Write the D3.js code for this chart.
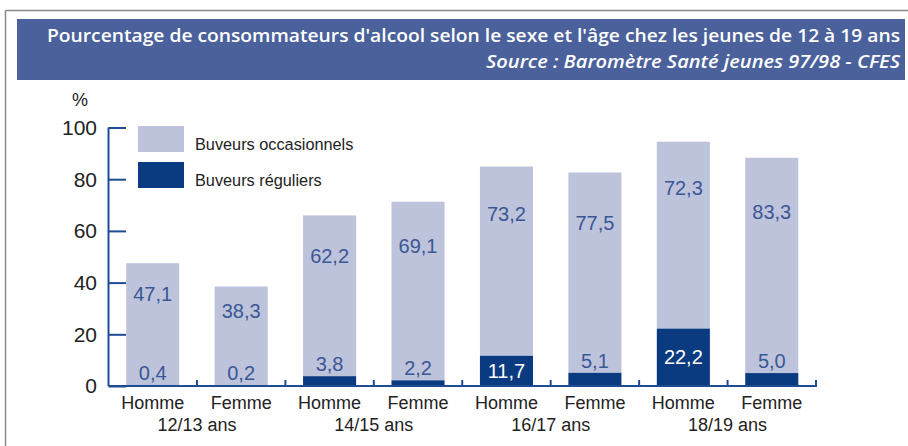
<!DOCTYPE html>
<html>
<head>
<meta charset="utf-8">
<script src="https://cdn.jsdelivr.net/npm/d3@7"></script>
<style>
  body { margin: 0; background: #fff; }
  svg { display: block; }
</style>
</head>
<body>
<svg id="chart" width="908" height="446"></svg>
<script>
// --------------- Data ---------------
const SEXES = ["Homme", "Femme", "Homme", "Femme", "Homme", "Femme", "Homme", "Femme"];
const AGES = ["12/13 ans", "14/15 ans", "16/17 ans", "18/19 ans"];
const REGULIERS = [0.4, 0.2, 3.8, 2.2, 11.7, 5.1, 22.2, 5.0];
const OCCASIONNELS = [47.1, 38.3, 62.2, 69.1, 73.2, 77.5, 72.3, 83.3];
const Y_TICKS = [0, 20, 40, 60, 80, 100];
const SERIES = ["Buveurs occasionnels", "Buveurs réguliers"];

// --------------- Constants ---------------
const MARGINS = { top: 127.5, right: 92, bottom: 60, left: 108.5 };
const WIDTH = 908;
const HEIGHT = 446;
const LIGHT = "#bec3dc";
const DARK = "#0a3a80";
const AXIS = "#1f4b92";
const LABEL = "#3a5795";
const FONT = "'Liberation Sans', Arial, sans-serif";

const svg = d3.select("#chart");

// --------------- Frame & title ---------------
svg.append("line").attr("x1", 5.5).attr("x2", WIDTH).attr("y1", 10.5).attr("y2", 10.5)
  .attr("stroke", "#8a8a8a").attr("stroke-width", 1.5);
svg.append("line").attr("x1", 5.5).attr("x2", 5.5).attr("y1", 10.5).attr("y2", HEIGHT)
  .attr("stroke", "#8a8a8a").attr("stroke-width", 1.5);
svg.append("rect").attr("x", 17).attr("y", 19).attr("width", 888).attr("height", 61)
  .attr("fill", "#4a619b");
svg.append("text")
  .text("Pourcentage de consommateurs d'alcool selon le sexe et l'âge chez les jeunes de 12 à 19 ans")
  .attr("x", 900).attr("y", 41.5).attr("text-anchor", "end")
  .attr("textLength", 853).attr("lengthAdjust", "spacingAndGlyphs")
  .attr("font-family", "'Open Sans', sans-serif").attr("font-weight", 600)
  .attr("font-size", 18.5).attr("fill", "#fff");
svg.append("text")
  .text("Source : Baromètre Santé jeunes 97/98 - CFES")
  .attr("x", 900).attr("y", 68).attr("text-anchor", "end")
  .attr("textLength", 414).attr("lengthAdjust", "spacingAndGlyphs")
  .attr("font-family", "'Open Sans', sans-serif").attr("font-style", "italic").attr("font-weight", 600)
  .attr("font-size", 18.5).attr("fill", "#fff");

// --------------- Scales ---------------
const x = d3.scaleBand()
  .domain(d3.range(SEXES.length))
  .range([MARGINS.left, WIDTH - MARGINS.right])
  .paddingInner(0.4)
  .paddingOuter(0.2);
const y = d3.scaleLinear().domain([0, 100]).range([HEIGHT - MARGINS.bottom, MARGINS.top]);
const step = x.step();
const x0 = MARGINS.left;
const y0 = y(0);

// --------------- Bars ---------------
const rows = SEXES.map((s, i) => ({ i, reg: REGULIERS[i], occ: OCCASIONNELS[i] }));

svg.append("g").selectAll("rect").data(rows).join("rect")
  .attr("x", d => x(d.i)).attr("width", x.bandwidth())
  .attr("y", d => y(d.reg + d.occ))
  .attr("height", d => y(d.reg) - y(d.reg + d.occ))
  .attr("fill", LIGHT);

svg.append("g").selectAll("rect").data(rows).join("rect")
  .attr("x", d => x(d.i)).attr("width", x.bandwidth())
  .attr("y", d => y(d.reg))
  .attr("height", d => y0 - y(d.reg))
  .attr("fill", DARK);

// value labels
svg.append("g").selectAll("text").data(rows).join("text")
  .text(d => d3.format(".1f")(d.occ).replace(".", ","))
  .attr("x", d => x(d.i) + x.bandwidth() / 2)
  .attr("y", d => y(d.reg + d.occ) + 0.25 * (y(d.reg) - y(d.reg + d.occ)))
  .attr("dy", "0.35em").attr("text-anchor", "middle")
  .attr("font-family", FONT).attr("font-size", 20).attr("fill", LABEL);

svg.append("g").selectAll("text").data(rows).join("text")
  .text(d => d3.format(".1f")(d.reg).replace(".", ","))
  .attr("x", d => x(d.i) + x.bandwidth() / 2)
  .attr("y", d => d.reg > 10 ? (y(d.reg) + y0) / 2 : y(d.reg) - 12)
  .attr("dy", "0.35em").attr("text-anchor", "middle")
  .attr("font-family", FONT).attr("font-size", 20)
  .attr("fill", d => d.reg > 10 ? "#fff" : LABEL);

// --------------- Axes ---------------
const yAxis = svg.append("g").attr("transform", `translate(${x0},0)`)
  .call(d3.axisRight(y).tickValues(Y_TICKS).tickSize(17.5).tickFormat(""));
yAxis.select(".domain").attr("d", `M0,${y(100)}V${y0}`);
yAxis.selectAll("line, path").attr("stroke", AXIS).attr("stroke-width", 2);

svg.append("g").selectAll("text").data(Y_TICKS).join("text")
  .text(d => d)
  .attr("x", 97).attr("y", d => y(d)).attr("dy", "0.35em").attr("text-anchor", "end")
  .attr("font-family", FONT).attr("font-size", 21).attr("fill", "#222");

svg.append("text").text("%").attr("x", 80).attr("y", 100).attr("dy", "0.35em")
  .attr("text-anchor", "middle").attr("font-family", FONT).attr("font-size", 18).attr("fill", "#222");

// x axis: baseline with small upward ticks between bars
const xEdges = d3.range(1, SEXES.length + 1).map(k => x0 + k * step);
svg.append("line").attr("x1", x0).attr("x2", xEdges[xEdges.length - 1] + 1)
  .attr("y1", y0).attr("y2", y0).attr("stroke", AXIS).attr("stroke-width", 2);
svg.append("g").selectAll("line").data(xEdges).join("line")
  .attr("x1", d => d).attr("x2", d => d).attr("y1", y0).attr("y2", y0 - 6)
  .attr("stroke", AXIS).attr("stroke-width", 2);

svg.append("g").selectAll("text").data(rows).join("text")
  .text(d => SEXES[d.i])
  .attr("x", d => x(d.i) + x.bandwidth() / 2).attr("y", 409)
  .attr("text-anchor", "middle").attr("font-family", FONT).attr("font-size", 18).attr("fill", "#222");

svg.append("g").selectAll("text").data(AGES).join("text")
  .text(d => d)
  .attr("x", (d, k) => x0 + (2 * k + 1) * step).attr("y", 431)
  .attr("text-anchor", "middle").attr("font-family", FONT).attr("font-size", 18).attr("fill", "#222");

// --------------- Legend ---------------
const legend = svg.append("g").selectAll("g").data(SERIES).join("g")
  .attr("transform", (d, k) => `translate(138,${126 + k * 36})`);
legend.append("rect").attr("width", 46).attr("height", 26)
  .attr("fill", (d, k) => k === 0 ? LIGHT : DARK);
legend.append("text").text(d => d).attr("x", 57).attr("y", 18).attr("dy", "0.35em")
  .attr("font-family", FONT).attr("font-size", 16.3).attr("fill", "#222");
</script>
</body>
</html>
